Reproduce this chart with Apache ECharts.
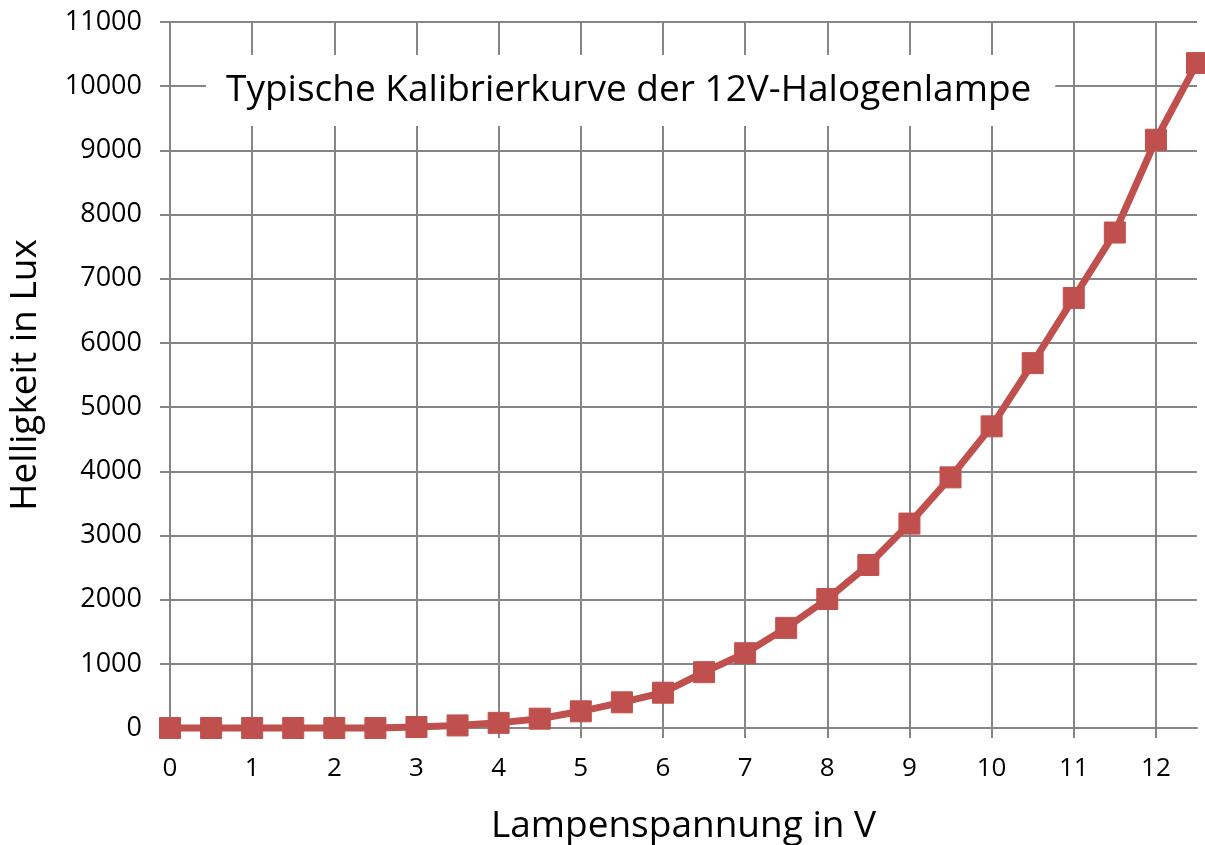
<!DOCTYPE html>
<html>
<head>
<meta charset="utf-8">
<script src="https://cdn.jsdelivr.net/npm/echarts@6/dist/echarts.min.js"></script>
<style>
  html, body { margin: 0; padding: 0; background: #fff; }
  #main { width: 1205px; height: 845px; }
</style>
</head>
<body>
<div id="main"></div>
<script>
// Lampenspannung in V
const voltages = [0, 0.5, 1, 1.5, 2, 2.5, 3, 3.5, 4, 4.5, 5, 5.5, 6, 6.5, 7, 7.5, 8, 8.5, 9, 9.5, 10, 10.5, 11, 11.5, 12, 12.5];
// Helligkeit in Lux
const lux = [0, 0, 0, 0, 0, 0, 15, 40, 80, 145, 260, 400, 550, 870, 1165, 1560, 2010, 2540, 3185, 3905, 4700, 5685, 6700, 7720, 9165, 10360];
const xTicks = [0, 1, 2, 3, 4, 5, 6, 7, 8, 9, 10, 11, 12];

const titleText = 'Typische Kalibrierkurve der 12V-Halogenlampe';
const gridColor = '#868686';
const lineColor = '#c0504d';

var chartDom = document.getElementById('main');
var myChart = echarts.init(chartDom);

var option = {
  backgroundColor: '#fff',
  animation: false,
  textStyle: { fontFamily: 'Open Sans' },
  title: {
    text: titleText,
    left: 206,
    top: 55,
    backgroundColor: '#fff',
    padding: [14, 24, 14, 20],
    textStyle: {
      fontFamily: 'Open Sans',
      fontWeight: 'normal',
      fontSize: 37,
      lineHeight: 43,
      color: '#000'
    },
    z: 10
  },
  grid: { left: 170, top: 22, right: 8, bottom: 117, outerBoundsMode: 'none' },
  xAxis: {
    type: 'value',
    min: 0,
    max: 12.5,
    name: 'Lampenspannung in V',
    nameLocation: 'middle',
    nameGap: 80,
    nameTextStyle: { fontSize: 37, color: '#000' },
    axisLine: { show: true, onZero: false, lineStyle: { color: gridColor, width: 2 } },
    axisTick: { show: true, customValues: xTicks, length: 10, lineStyle: { color: gridColor, width: 2 } },
    axisLabel: { customValues: xTicks, fontSize: 26, color: '#000', margin: 28 },
    splitLine: { show: true, lineStyle: { color: gridColor, width: 2 } }
  },
  yAxis: {
    type: 'value',
    min: 0,
    max: 11000,
    interval: 1000,
    name: 'Helligkeit in Lux',
    nameLocation: 'middle',
    nameGap: 126,
    nameRotate: 90,
    nameTextStyle: { fontSize: 37, color: '#000' },
    axisLine: { show: true, lineStyle: { color: gridColor, width: 2 } },
    axisTick: { show: true, length: 10, lineStyle: { color: gridColor, width: 2 } },
    axisLabel: { fontSize: 27, color: '#000', margin: 28, formatter: (v) => String(v) },
    splitLine: { show: true, lineStyle: { color: gridColor, width: 2 } }
  },
  series: [
    {
      type: 'line',
      data: voltages.map((v, i) => [v, lux[i]]),
      symbol: 'rect',
      symbolSize: 21,
      clip: false,
      lineStyle: { color: lineColor, width: 7 },
      itemStyle: { color: lineColor, borderColor: lineColor },
      z: 5
    }
  ]
};
option && myChart.setOption(option);
window.addEventListener('resize', () => {
  myChart.resize();
});
</script>
</body>
</html>
